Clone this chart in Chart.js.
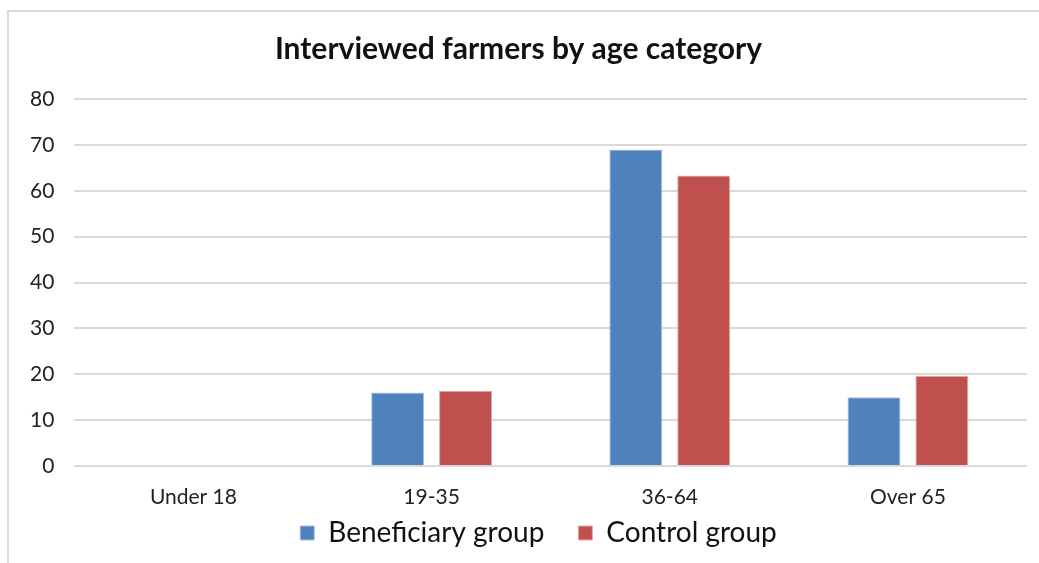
<!DOCTYPE html>
<html>
<head>
<meta charset="utf-8">
<script src="https://cdn.jsdelivr.net/npm/chart.js@4/dist/chart.umd.min.js"></script>
<style>
  body { margin: 0; background: #fff; width: 1039px; height: 563px; overflow: hidden; }
  #frame {
    position: absolute; left: 7px; top: 10px; width: 1040px; height: 560px;
    border-left: 2px solid #d9d9d9; border-top: 2px solid #d9d9d9;
  }
  #wrap { position: absolute; left: 10px; top: 12px; width: 1029px; height: 551px; }
</style>
</head>
<body>
<div id="frame"></div>
<div id="wrap"><canvas id="myChart"></canvas></div>
<script>
const categories = ["Under 18", "19-35", "36-64", "Over 65"];
const beneficiary = [0, 16, 69, 15];
const control = [0, 16.4, 63.3, 19.7];
const yTicks = [0, 10, 20, 30, 40, 50, 60, 70, 80];

const fontFamily = "'Lato', 'Open Sans', sans-serif";

// wide gap between legend items, but keep the legend tucked under the x labels
const legendShift = {
    id: 'legendShift',
    afterLayout(chart) {
        chart.legend.top -= 28;
        chart.legend.left += 20;
        chart.legend.right += 20;
    }
};

function createChart() {
    const ctx = document.getElementById("myChart").getContext('2d');
    return new Chart(ctx, {
        type: 'bar',
        data: {
            labels: categories,
            datasets: [{
                label: 'Beneficiary group',
                data: beneficiary,
                backgroundColor: '#4F81BD',
                borderColor: '#A7C0DE',
                borderWidth: 1
            }, {
                label: 'Control group',
                data: control,
                backgroundColor: '#C0504D',
                borderColor: '#E3A9A7',
                borderWidth: 1
            }]
        },
        options: {
            responsive: true,
            maintainAspectRatio: false,
            animation: false,
            layout: { padding: { left: 0, right: 12, top: 14, bottom: 10 } },
            datasets: {
                bar: { categoryPercentage: 0.57, barPercentage: 0.78 }
            },
            plugins: {
                title: {
                    display: true,
                    text: 'Interviewed farmers by age category',
                    color: '#111',
                    font: { family: fontFamily, size: 30, weight: 'bold' },
                    padding: { top: 5, bottom: 32 }
                },
                legend: {
                    position: 'bottom',
                    maxHeight: 40,
                    labels: {
                        color: '#111',
                        font: { family: fontFamily, size: 28, lineHeight: 1 },
                        boxWidth: 14,
                        boxHeight: 14,
                        padding: 34
                    }
                },
                tooltip: { enabled: false }
            },
            scales: {
                x: {
                    afterFit: (axis) => { axis.height = 47; },
                    grid: { display: false, drawTicks: false },
                    border: { display: false },
                    ticks: { color: '#222', font: { family: fontFamily, size: 21, lineHeight: 1 }, padding: 21 }
                },
                y: {
                    min: 0,
                    max: 80,
                    afterBuildTicks: (axis) => { axis.ticks = yTicks.map(v => ({ value: v })); },
                    grid: { color: '#d9d9d9', lineWidth: 2, drawTicks: false },
                    border: { display: false },
                    ticks: { color: '#222', font: { family: fontFamily, size: 21 }, padding: 20 }
                }
            }
        },
        plugins: [legendShift]
    });
}

createChart();
</script>
</body>
</html>
